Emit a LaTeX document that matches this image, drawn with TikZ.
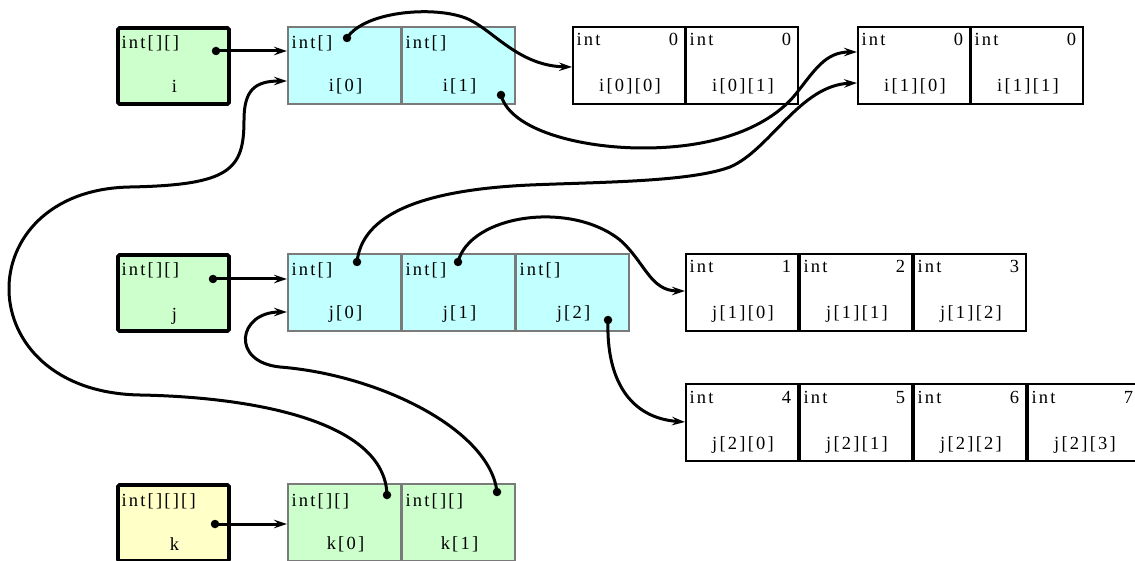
\documentclass[tikz,border=0pt]{standalone}
\usepackage{fontspec}
\setmainfont{Liberation Serif}[LetterSpace=12]
\usetikzlibrary{arrows.meta}
\definecolor{vargreen}{HTML}{CCFFCC}
\definecolor{varyellow}{HTML}{FFFFC8}
\definecolor{arrcyan}{HTML}{C2FFFF}
\definecolor{arrgray}{HTML}{7A7A7A}
\newcommand\cellbox[8]{% style, name, x, y, top text, value, label, top baseline offset
  \node[#1] (#2) at (#3,#4) {};
  \node[txt, anchor=base west] (#2t) at ([xshift=3.5pt,yshift=-#8pt]#2.north west) {#5};
  \node[txt, anchor=base east] (#2v) at ([xshift=-7pt,yshift=-#8pt]#2.north east) {#6};
  \node[txt, anchor=base] (#2l) at ([xshift=1pt,yshift=-65pt]#2.north) {#7};
}
\begin{document}
\begin{tikzpicture}[x=1pt,y=-1pt,
  txt/.style={inner sep=0pt, outer sep=0pt, font=\fontsize{18.5}{22}\selectfont},
  boxbase/.style={anchor=north west, inner sep=0pt, outer sep=0pt},
  varbox/.style={boxbase, draw=black, line width=3.8pt, rounded corners=1.5pt,
    fill=vargreen, minimum width=111pt, minimum height=76pt},
  varboxk/.style={varbox, fill=varyellow},
  arrbox/.style={boxbase, draw=arrgray, line width=1.3pt, fill=arrcyan,
    minimum width=113pt, minimum height=77pt},
  arrboxk/.style={arrbox, fill=vargreen},
  intbox/.style={boxbase, draw=black, line width=1.4pt, fill=white,
    minimum width=112pt, minimum height=77pt},
  dot/.style={circle, fill=black, inner sep=0pt, minimum size=8.5pt},
  ptr/.style={line width=3pt, -{Stealth[length=13pt,width=8.5pt,inset=4.5pt]}}]
\useasboundingbox (0,0) rectangle (1135,561);

% variables
\cellbox{varbox}{iv}{118}{28}{int[][]}{}{i}{21}
\cellbox{varbox}{jv}{118}{255}{int[][]}{}{j}{21}
\cellbox{varboxk}{kv}{118}{485}{int[][][]}{}{k}{21}

% i arrays
\cellbox{arrbox}{i0}{288}{27}{int[]}{}{i[0]}{22}
\cellbox{arrbox}{i1}{402}{27}{int[]}{}{i[1]}{22}
\cellbox{intbox}{i00}{573}{27}{int}{0}{i[0][0]}{19}
\cellbox{intbox}{i01}{686}{27}{int}{0}{i[0][1]}{19}
\cellbox{intbox}{i10}{858}{27}{int}{0}{i[1][0]}{19}
\cellbox{intbox}{i11}{971}{27}{int}{0}{i[1][1]}{19}

% j arrays
\cellbox{arrbox}{j0}{288}{254}{int[]}{}{j[0]}{22}
\cellbox{arrbox}{j1}{402}{254}{int[]}{}{j[1]}{22}
\cellbox{arrbox}{j2}{516}{254}{int[]}{}{j[2]}{22}
\cellbox{intbox}{j10}{686}{254}{int}{1}{j[1][0]}{19}
\cellbox{intbox}{j11}{800}{254}{int}{2}{j[1][1]}{19}
\cellbox{intbox}{j12}{914}{254}{int}{3}{j[1][2]}{19}
\cellbox{intbox}{j20}{686}{384}{int}{4}{j[2][0]}{19}
\cellbox{intbox}{j21}{800}{384}{int}{5}{j[2][1]}{19}
\cellbox{intbox}{j22}{914}{384}{int}{6}{j[2][2]}{19}
\cellbox{intbox}{j23}{1028}{384}{int}{7}{j[2][3]}{19}

% k array
\cellbox{arrboxk}{k0}{288}{484}{int[][]}{}{k[0]}{22}
\cellbox{arrboxk}{k1}{402}{484}{int[][]}{}{k[1]}{22}

% pointer origins
\node[dot] (d1) at (216,51) {};
\node[dot] (d2) at (347,38) {};
\node[dot] (d3) at (501,95) {};
\node[dot] (d4) at (357,262) {};
\node[dot] (d5) at (213,279) {};
\node[dot] (d6) at (458,262) {};
\node[dot] (d7) at (608,320) {};
\node[dot] (d8) at (215,524) {};
\node[dot] (d9) at (387,495) {};
\node[dot] (d10) at (497,492) {};

% pointer targets
\coordinate (e1) at (287,51);
\coordinate (e2) at (572,67);
\coordinate (e3) at (857,52);
\coordinate (e4) at (857,83);
\coordinate (e5) at (287,279);
\coordinate (e6) at (685,291);
\coordinate (e7) at (685,422);
\coordinate (e8) at (287,524);
\coordinate (e9) at (287,81);
\coordinate (e10) at (287,312);

\draw[ptr] (d1.center) -- (e1);
\draw[ptr] (d2.center) .. controls (365,10) and (440,5) .. (470,20)
  .. controls (495,32.5) and (520,66) .. (e2);
\draw[ptr] (d3.center) .. controls (510,130) and (580,148) .. (643,148)
  .. controls (720,148) and (770,125) .. (795,95)
  .. controls (815,70) and (825,52) .. (e3);
\draw[ptr] (d4.center) .. controls (362,215) and (420,190) .. (530,185)
  .. controls (600,182) and (690,182) .. (730,167)
  .. controls (770,150) and (800,85) .. (e4);
\draw[ptr] (d5.center) -- (e5);
\draw[ptr] (d6.center) .. controls (470,215) and (570,200) .. (620,240)
  .. controls (645,262) and (650,291) .. (e6);
\draw[ptr] (d7.center) .. controls (606,380) and (630,418) .. (e7);
\draw[ptr] (d8.center) -- (e8);
\draw[ptr] (d9.center) .. controls (385,420) and (250,397) .. (140,395)
  .. controls (-33,392) and (-33,190) .. (130,187)
  .. controls (230,185) and (244,170) .. (244,120)
  .. controls (244,90) and (255,81) .. (e9);
\draw[ptr] (d10.center) .. controls (490,430) and (380,375) .. (280,367)
  .. controls (230,362) and (238,312) .. (e10);
\end{tikzpicture}
\end{document}
